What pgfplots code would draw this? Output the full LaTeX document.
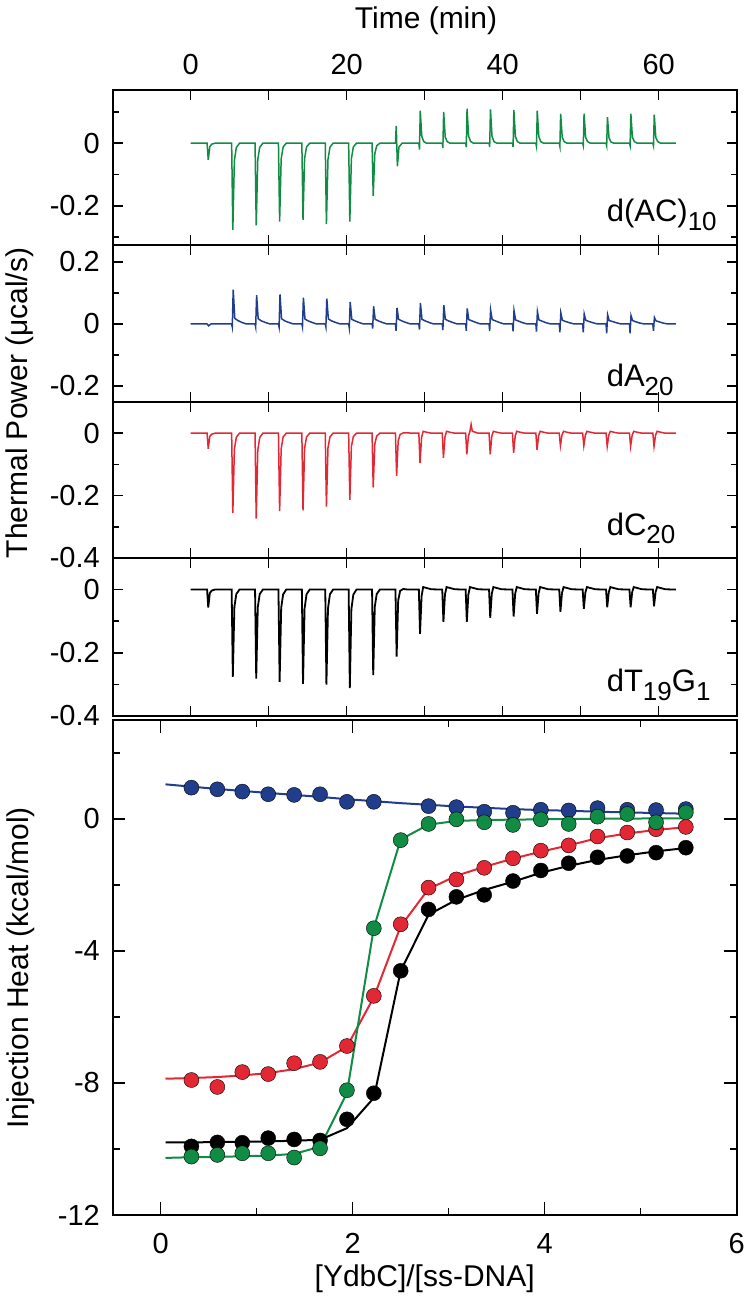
\documentclass[border=0pt]{standalone}
\usepackage{fontspec}
\setmainfont{Liberation Sans}
\usepackage{pgfplots}
\pgfplotsset{compat=1.18}
\definecolor{cgreen}{RGB}{16,140,68}
\definecolor{cblue}{RGB}{32,62,140}
\definecolor{cred}{RGB}{226,40,52}
\newcommand{\tl}{\fontsize{29}{30}\selectfont}
\newcommand{\al}{\fontsize{30}{32}\selectfont}
\newcommand{\lab}{\fontsize{31}{32}\selectfont}
\newcommand{\sub}[1]{\raisebox{-0.28em}{\fontsize{26}{26}\selectfont #1}}
\pgfplotsset{
  frame/.style={scale only axis, width=624pt, tick align=inside,
    xtick pos=both, ytick pos=both,
    axis line style={line width=2pt},
    every tick/.style={black, line width=1.5pt},
    tick label style={font=\tl, inner sep=0pt},
    yticklabel style={xshift=-12.7pt},
    /pgf/number format/assume math mode=true},
  panel/.style={frame, xmin=-10, xmax=70, xtick={0,10,20,30,40,50,60},
    xticklabels={}, major tick length=10pt, minor tick length=6pt},
}
\begin{document}
\begin{tikzpicture}[x=1pt,y=1pt]
\useasboundingbox (0,0) rectangle (751,1305);
% ---- panel 1: d(AC)10
\begin{axis}[panel, at={(112.7pt,1060pt)}, anchor=south west, height=155pt,
  ymin=-0.325, ymax=0.17, ytick={-0.2,0}, yticklabels={-0.2,0},
  minor ytick={-0.3,-0.1,0.1},
  xticklabel pos=upper, xticklabels={0,,20,,40,,60}, xticklabel style={yshift=15pt}]
\addplot[cgreen, line width=1.5pt] coordinates {
(0,0)
(2.1,0)(2.25,-0.053)(2.45,-0.011)(2.7,-0.003)(3.1,0)
(5.25,0)(5.4,-0.277)(5.6,-0.055)(5.85,-0.014)(6.25,0)
(8.25,0)(8.4,-0.262)(8.6,-0.052)(8.85,-0.013)(9.25,0)
(11.25,0)(11.4,-0.25)(11.6,-0.05)(11.85,-0.012)(12.25,0)
(14.25,0)(14.4,-0.245)(14.6,-0.049)(14.85,-0.012)(15.25,0)
(17.25,0)(17.4,-0.258)(17.6,-0.052)(17.85,-0.013)(18.25,0)
(20.25,0)(20.4,-0.25)(20.6,-0.05)(20.85,-0.012)(21.25,0)
(23.25,0)(23.4,-0.168)(23.6,-0.034)(23.85,-0.008)(24.25,0)
(26.25,0)(26.35,0.055)(26.5,-0.074)(26.7,-0.012)(27.1,0)
(29.25,0)(29.33,-0.02)(29.43,0.104)(29.63,0.021)(29.88,0.005)(30.25,0)
(32.25,0)(32.33,-0.015)(32.43,0.10)(32.63,0.02)(32.88,0.005)(33.25,0)
(35.25,0)(35.33,-0.012)(35.43,0.11)(35.63,0.022)(35.88,0.006)(36.25,0)
(38.25,0)(38.33,-0.012)(38.43,0.108)(38.63,0.022)(38.88,0.005)(39.25,0)
(41.25,0)(41.33,-0.012)(41.43,0.106)(41.63,0.021)(41.88,0.005)(42.25,0)
(44.25,0)(44.33,-0.01)(44.43,0.104)(44.63,0.021)(44.88,0.005)(45.25,0)
(47.25,0)(47.33,-0.01)(47.43,0.094)(47.63,0.019)(47.88,0.005)(48.25,0)
(50.25,0)(50.33,-0.008)(50.43,0.094)(50.63,0.019)(50.88,0.005)(51.25,0)
(53.25,0)(53.33,-0.008)(53.43,0.083)(53.63,0.017)(53.88,0.004)(54.25,0)
(56.25,0)(56.33,-0.008)(56.43,0.094)(56.63,0.019)(56.88,0.005)(57.25,0)
(59.25,0)(59.33,-0.008)(59.43,0.091)(59.63,0.018)(59.88,0.005)(60.25,0)
(62.2,0)};
\node[anchor=base west, font=\lab, inner sep=0pt] at (rel axis cs:0.7915,0.15) {d(AC)\sub{10}};
\end{axis}
% ---- panel 2: dA20
\begin{axis}[panel, at={(112.7pt,903pt)}, anchor=south west, height=157pt,
  ymin=-0.252, ymax=0.255, ytick={-0.2,0,0.2}, yticklabels={-0.2,0,0.2},
  minor ytick={-0.1,0.1}]
\addplot[cblue, line width=1.5pt] coordinates {
(0,0)
(2.1,0)(2.3,-0.006)(2.6,0)
(5.25,0)(5.33,-0.01)(5.45,0.111)(5.65,0.018)(6.05,0.011)(6.55,0.005)(7.15,0)
(8.25,0)(8.33,-0.01)(8.45,0.093)(8.65,0.017)(9.05,0.01)(9.55,0.005)(10.15,0)
(11.25,0)(11.33,-0.01)(11.45,0.095)(11.65,0.017)(12.05,0.01)(12.55,0.005)(13.15,0)
(14.25,0)(14.33,-0.01)(14.45,0.085)(14.65,0.016)(15.05,0.01)(15.55,0.005)(16.15,0)
(17.25,0)(17.33,-0.01)(17.45,0.082)(17.65,0.016)(18.05,0.01)(18.55,0.005)(19.15,0)
(20.25,0)(20.33,-0.012)(20.45,0.071)(20.65,0.015)(21.05,0.01)(21.55,0.005)(22.15,0)
(23.25,0)(23.33,-0.015)(23.45,0.057)(23.65,0.015)(24.05,0.01)(24.55,0.005)(25.15,0)
(26.25,0)(26.33,-0.022)(26.45,0.052)(26.65,0.015)(27.05,0.01)(27.55,0.005)(28.15,0)
(29.25,0)(29.33,-0.018)(29.45,0.068)(29.65,0.015)(30.05,0.01)(30.55,0.005)(31.15,0)
(32.25,0)(32.33,-0.02)(32.45,0.061)(32.65,0.015)(33.05,0.01)(33.55,0.005)(34.15,0)
(35.25,0)(35.33,-0.022)(35.45,0.05)(35.65,0.014)(36.05,0.01)(36.55,0.005)(37.15,0)
(38.25,0)(38.33,-0.022)(38.45,0.045)(38.65,0.014)(39.05,0.01)(39.55,0.005)(40.15,0)
(41.25,0)(41.33,-0.024)(41.45,0.043)(41.65,0.013)(42.05,0.009)(42.55,0.004)(43.15,0)
(44.25,0)(44.33,-0.025)(44.45,0.04)(44.65,0.013)(45.05,0.009)(45.55,0.004)(46.15,0)
(47.25,0)(47.33,-0.027)(47.45,0.036)(47.65,0.012)(48.05,0.008)(48.55,0.004)(49.15,0)
(50.25,0)(50.33,-0.027)(50.45,0.032)(50.65,0.012)(51.05,0.008)(51.55,0.004)(52.15,0)
(53.25,0)(53.33,-0.03)(53.45,0.03)(53.65,0.011)(54.05,0.008)(54.55,0.004)(55.15,0)
(56.25,0)(56.33,-0.03)(56.45,0.027)(56.65,0.011)(57.05,0.007)(57.55,0.003)(58.15,0)
(59.25,0)(59.33,-0.022)(59.45,0.021)(59.65,0.01)(60.05,0.007)(60.55,0.003)(61.15,0)
(62.2,0)};
\node[anchor=base west, font=\lab, inner sep=0pt] at (rel axis cs:0.7915,0.097) {dA\sub{20}};
\end{axis}
% ---- panel 3: dC20
\begin{axis}[panel, at={(112.7pt,747pt)}, anchor=south west, height=156pt,
  ymin=-0.4, ymax=0.1, ytick={-0.4,-0.2,0}, yticklabels={-0.4,-0.2,0},
  minor ytick={-0.3,-0.1}]
\addplot[cred, line width=1.5pt] coordinates {
(0,0)
(2.1,0)(2.25,-0.05)(2.45,-0.01)(2.7,-0.003)(3.1,0)
(5.25,0)(5.4,-0.256)(5.6,-0.051)(5.85,-0.013)(6.25,0)
(8.25,0)(8.4,-0.274)(8.6,-0.055)(8.85,-0.014)(9.25,0)
(11.25,0)(11.4,-0.25)(11.6,-0.05)(11.85,-0.012)(12.25,0)
(14.25,0)(14.4,-0.247)(14.6,-0.049)(14.85,-0.012)(15.25,0)
(17.25,0)(17.4,-0.235)(17.6,-0.047)(17.85,-0.012)(18.25,0)
(20.25,0)(20.4,-0.214)(20.6,-0.043)(20.85,-0.011)(21.25,0)
(23.25,0)(23.4,-0.174)(23.6,-0.035)(23.85,-0.009)(24.25,0)
(26.25,0)(26.4,-0.137)(26.6,-0.025)(26.85,-0.004)(27.25,0.001)
(29.25,0)(29.4,-0.096)(29.6,-0.014)(29.8,0.006)(30.25,0.003)(30.85,0)
(32.25,0)(32.4,-0.079)(32.6,-0.012)(32.8,0.006)(33.25,0.003)(33.85,0)
(35.25,0)(35.4,-0.068)(35.6,-0.01)(35.8,0.006)(35.95,0.028)(36.1,0.006)(36.5,0.003)(36.85,0)
(38.25,0)(38.4,-0.068)(38.6,-0.01)(38.8,0.006)(39.25,0.003)(39.85,0)
(41.25,0)(41.4,-0.063)(41.6,-0.009)(41.8,0.006)(42.25,0.003)(42.85,0)
(44.25,0)(44.4,-0.053)(44.6,-0.008)(44.8,0.006)(45.25,0.003)(45.85,0)
(47.25,0)(47.4,-0.04)(47.6,-0.006)(47.8,0.006)(48.25,0.003)(48.85,0)
(50.25,0)(50.4,-0.04)(50.6,-0.006)(50.8,0.006)(51.25,0.003)(51.85,0)
(53.25,0)(53.4,-0.042)(53.6,-0.006)(53.8,0.006)(54.25,0.003)(54.85,0)
(56.25,0)(56.4,-0.042)(56.6,-0.006)(56.8,0.006)(57.25,0.003)(57.85,0)
(59.25,0)(59.4,-0.042)(59.6,-0.006)(59.8,0.006)(60.25,0.003)(60.85,0)
(62.2,0)};
\node[anchor=base west, font=\lab, inner sep=0pt] at (rel axis cs:0.7915,0.147) {dC\sub{20}};
\end{axis}
% ---- panel 4: dT19G1
\begin{axis}[panel, at={(112.7pt,589pt)}, anchor=south west, height=158pt,
  ymin=-0.4, ymax=0.1, ytick={-0.4,-0.2,0}, yticklabels={-0.4,-0.2,0},
  minor ytick={-0.3,-0.1}]
\addplot[black, line width=1.8pt] coordinates {
(0,0)
(2.1,0)(2.25,-0.057)(2.45,-0.011)(2.7,-0.003)(3.1,0)
(5.25,0)(5.4,-0.276)(5.6,-0.055)(5.85,-0.014)(6.25,0)
(8.25,0)(8.4,-0.282)(8.6,-0.056)(8.85,-0.014)(9.25,0)
(11.25,0)(11.4,-0.292)(11.6,-0.058)(11.85,-0.015)(12.25,0)
(14.25,0)(14.4,-0.298)(14.6,-0.06)(14.85,-0.015)(15.25,0)
(17.25,0)(17.4,-0.301)(17.6,-0.06)(17.85,-0.015)(18.25,0)
(20.25,0)(20.4,-0.312)(20.6,-0.062)(20.85,-0.016)(21.25,0)
(23.25,0)(23.4,-0.271)(23.6,-0.054)(23.85,-0.014)(24.25,0)
(26.25,0)(26.4,-0.212)(26.6,-0.035)(26.85,-0.004)(27.25,0.002)(27.85,0)
(29.25,0)(29.4,-0.14)(29.6,-0.021)(29.8,0.008)(30.25,0.005)(30.85,0.001)
(32.25,0)(32.4,-0.102)(32.6,-0.015)(32.8,0.008)(33.25,0.005)(33.85,0.001)
(35.25,0)(35.4,-0.102)(35.6,-0.015)(35.8,0.008)(36.25,0.005)(36.85,0.001)
(38.25,0)(38.4,-0.089)(38.6,-0.013)(38.8,0.008)(39.25,0.005)(39.85,0.001)
(41.25,0)(41.4,-0.085)(41.6,-0.013)(41.8,0.008)(42.25,0.005)(42.85,0.001)
(44.25,0)(44.4,-0.077)(44.6,-0.012)(44.8,0.008)(45.25,0.005)(45.85,0.001)
(47.25,0)(47.4,-0.07)(47.6,-0.011)(47.8,0.008)(48.25,0.005)(48.85,0.001)
(50.25,0)(50.4,-0.061)(50.6,-0.009)(50.8,0.008)(51.25,0.005)(51.85,0.001)
(53.25,0)(53.4,-0.056)(53.6,-0.008)(53.8,0.008)(54.25,0.005)(54.85,0.001)
(56.25,0)(56.4,-0.056)(56.6,-0.008)(56.8,0.008)(57.25,0.005)(57.85,0.001)
(59.25,0)(59.4,-0.053)(59.6,-0.008)(59.8,0.008)(60.25,0.005)(60.85,0.001)
(62.2,0)};
\node[anchor=base west, font=\lab, inner sep=0pt] at (rel axis cs:0.7915,0.154) {dT\sub{19}G\sub{1}};
\end{axis}
% ---- panel 5: injection heat
\begin{axis}[frame, at={(112.7pt,90pt)}, anchor=south west, height=495pt,
  xmin=-0.5, xmax=6, ymin=-12, ymax=3,
  xtick={0,2,4,6}, xticklabels={0,2,4,6}, minor xtick={1,3,5},
  ytick={-12,-8,-4,0}, yticklabels={-12,-8,-4,0}, minor ytick={-10,-6,-2,2},
  major tick length=12.7pt, minor tick length=7pt,
  xticklabel style={yshift=-18pt}]
% fits
\addplot[black, line width=2pt] coordinates {
(0.05,-9.80)(0.32,-9.80)(0.59,-9.79)(0.85,-9.78)(1.12,-9.77)(1.39,-9.75)(1.66,-9.72)(1.94,-9.37)(2.22,-8.45)(2.50,-4.6)(2.79,-2.9)(3.08,-2.45)(3.37,-2.15)(3.67,-1.9)(3.96,-1.63)(4.25,-1.42)(4.55,-1.24)(4.86,-1.10)(5.16,-0.98)(5.47,-0.88)};
\addplot[cred, line width=2pt] coordinates {
(0.05,-7.87)(0.32,-7.85)(0.59,-7.82)(0.85,-7.77)(1.12,-7.70)(1.39,-7.58)(1.66,-7.38)(1.94,-6.9)(2.22,-5.4)(2.50,-3.25)(2.79,-2.12)(3.08,-1.72)(3.37,-1.45)(3.67,-1.2)(3.96,-0.99)(4.25,-0.80)(4.55,-0.58)(4.86,-0.44)(5.16,-0.33)(5.47,-0.25)};
\addplot[cblue, line width=2pt] coordinates {
(0.05,1.05)(0.32,0.98)(0.59,0.91)(0.85,0.85)(1.12,0.79)(1.39,0.73)(1.66,0.67)(1.94,0.6)(2.22,0.54)(2.50,0.48)(2.79,0.43)(3.08,0.38)(3.37,0.34)(3.67,0.30)(3.96,0.27)(4.25,0.25)(4.55,0.22)(4.86,0.20)(5.16,0.18)(5.47,0.16)};
\addplot[cgreen, line width=2pt] coordinates {
(0.05,-10.27)(0.32,-10.25)(0.59,-10.24)(0.85,-10.22)(1.12,-10.2)(1.39,-10.15)(1.66,-9.93)(1.94,-8.3)(2.22,-3.3)(2.50,-0.62)(2.79,-0.17)(3.08,-0.06)(3.37,-0.03)(3.67,-0.02)(3.96,-0.01)(4.25,0.0)(4.55,0.01)(4.86,0.01)(5.16,0.02)(5.47,0.02)};
% data
\addplot[only marks, mark=*, mark size=7.5pt, mark options={draw=none, fill=black}] coordinates {
(0.32,-9.92)(0.59,-9.80)(0.85,-9.81)(1.12,-9.67)(1.39,-9.71)(1.66,-9.74)(1.94,-9.10)(2.22,-8.31)(2.50,-4.60)(2.79,-2.74)(3.08,-2.36)(3.37,-2.30)(3.67,-1.88)(3.96,-1.56)(4.25,-1.34)(4.55,-1.16)(4.86,-1.12)(5.16,-1.02)(5.47,-0.87)};
\addplot[only marks, mark=*, mark size=7.5pt, mark options={draw=none, fill=cred}] coordinates {
(0.32,-7.91)(0.59,-8.12)(0.85,-7.67)(1.12,-7.73)(1.39,-7.40)(1.66,-7.36)(1.94,-6.88)(2.22,-5.36)(2.50,-3.19)(2.79,-2.08)(3.08,-1.83)(3.37,-1.48)(3.67,-1.19)(3.96,-0.96)(4.25,-0.80)(4.55,-0.53)(4.86,-0.41)(5.16,-0.31)(5.47,-0.24)};
\addplot[only marks, mark=*, mark size=7.5pt, mark options={draw=none, fill=cblue}] coordinates {
(0.32,0.95)(0.59,0.90)(0.85,0.83)(1.12,0.75)(1.39,0.73)(1.66,0.75)(1.94,0.52)(2.22,0.52)(2.79,0.39)(3.08,0.36)(3.37,0.22)(3.67,0.19)(3.96,0.28)(4.25,0.26)(4.55,0.33)(4.86,0.28)(5.16,0.27)(5.47,0.30)};
\addplot[only marks, mark=*, mark size=7.5pt, mark options={draw=none, fill=cgreen}] coordinates {
(0.32,-10.23)(0.59,-10.18)(0.85,-10.13)(1.12,-10.13)(1.39,-10.26)(1.66,-9.98)(1.94,-8.22)(2.22,-3.31)(2.50,-0.64)(2.79,-0.15)(3.08,-0.01)(3.37,-0.10)(3.67,-0.18)(3.96,-0.01)(4.25,-0.15)(4.55,0.07)(4.86,0.15)(5.16,-0.10)(5.47,0.20)};
\end{axis}
\node[font=\al] at (426pt,1284pt) {Time (min)};
\node[font=\al, rotate=90] at (20pt,902pt) {Thermal Power (μcal/s)};
\node[font=\al, rotate=90] at (21pt,337pt) {Injection Heat (kcal/mol)};
\node[font=\al] at (424.7pt,26pt) {[YdbC]/[ss-DNA]};
\end{tikzpicture}
\end{document}
